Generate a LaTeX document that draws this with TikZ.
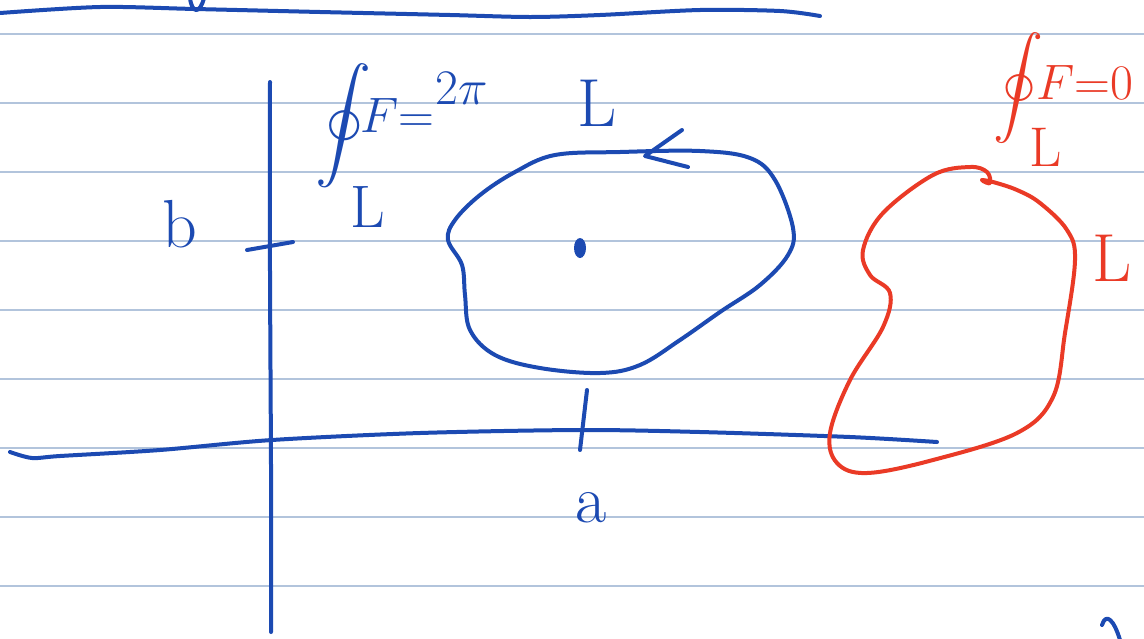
\documentclass[tikz,border=0pt]{standalone}
\usepackage{amsmath,amssymb}
\usepackage{tikz}
\definecolor{inkblue}{RGB}{28,74,178}
\definecolor{inkred}{RGB}{234,58,38}
\definecolor{ruleblue}{RGB}{178,196,220}

\begin{document}
\begin{tikzpicture}[x=.5pt,y=-.5pt,
  ink/.style={line width=2pt,line cap=round,line join=round},
  hand/.style={font=\fontsize{34}{34}\selectfont},
  formula/.style={font=\fontsize{24}{24}\selectfont,inner sep=0pt},
  bigint/.style={font=\fontsize{28}{28}\selectfont,inner sep=0pt}]
  \useasboundingbox[fill=white] (0,0) rectangle (1144,638);
  % ruled paper
  \foreach \k in {0,...,8}
    \draw[ruleblue,line width=.7pt] (0,34+69*\k) -- (1144,34+69*\k);

  % line and stroke cut off at the top
  \draw[ink,inkblue] plot[smooth] coordinates {(0,13) (100,7) (195,9) (320,12) (450,15) (530,17) (600,15) (700,10) (780,11) (820,16)};
  \draw[ink,inkblue] (190,-2) .. controls (192,14) and (200,14) .. (204,-2);

  % axes
  \draw[ink,inkblue] (270,82) .. controls (269,300) and (272,450) .. (271,632);
  \draw[ink,inkblue] plot[smooth] coordinates {(10,452) (32,458) (60,456) (160,450) (272,440) (420,433) (580,430) (700,432) (850,437) (937,442)};
  \draw[ink,inkblue] (247,250) -- (293,242);
  \draw[ink,inkblue] (587,390) -- (580,450);
  \node[hand,text=inkblue] (blab) at (180,224) {b};
  \node[hand,text=inkblue] (alab) at (591,508) {a};

  % blue curve round the point
  \draw[ink,inkblue] plot[smooth cycle,tension=.6] coordinates {(555,155) (620,152) (700,151) (750,158) (775,180) (793,228) (788,255) (760,285) (720,312) (680,340) (640,365) (600,373) (540,368) (495,355) (470,330) (465,295) (462,265) (448,240) (455,220) (480,195) (515,172)};
  \draw[ink,inkblue] (682,130) -- (645,156) -- (688,167);
  \fill[inkblue] (580,248) ellipse (6 and 10);
  \node[hand,text=inkblue] (Lblue) at (597,103) {L};

  % blue integral
  \node[bigint,text=inkblue] (intblue) at (343,126) {$\displaystyle\oint$};
  \node[formula,text=inkblue,anchor=west] (Fblue) at (360,115) {$F{=}$};
  \node[formula,text=inkblue] (piblue) at (462,88) {$2\pi$};
  \node[hand,text=inkblue,font=\fontsize{30}{30}\selectfont] (Lint) at (368,207) {L};

  % red curve
  \draw[ink,inkred] plot[smooth,tension=.6] coordinates {(983,181) (990,183) (987,172) (970,167) (933,175) (883,213) (863,250) (870,275) (890,293) (883,327) (850,380) (830,433) (837,463) (867,473) (933,460) (1017,433) (1053,397) (1065,333) (1075,260) (1067,230) (1040,203) (1017,190) (993,182) (982,180)};
  \node[hand,text=inkred] (Lred) at (1112,258) {L};

  % red integral
  \node[bigint,text=inkred,font=\fontsize{25}{25}\selectfont] (intred) at (1018,88) {$\displaystyle\oint$};
  \node[formula,text=inkred,anchor=west] (Fred) at (1036,82) {$F{=}0$};
  \node[hand,text=inkred,font=\fontsize{28}{28}\selectfont] (Lint2) at (1046,147) {L};

  % stroke cut off at the bottom
  \draw[ink,inkblue] (1102,625) .. controls (1106,612) and (1114,620) .. (1120,640);
\end{tikzpicture}
\end{document}
